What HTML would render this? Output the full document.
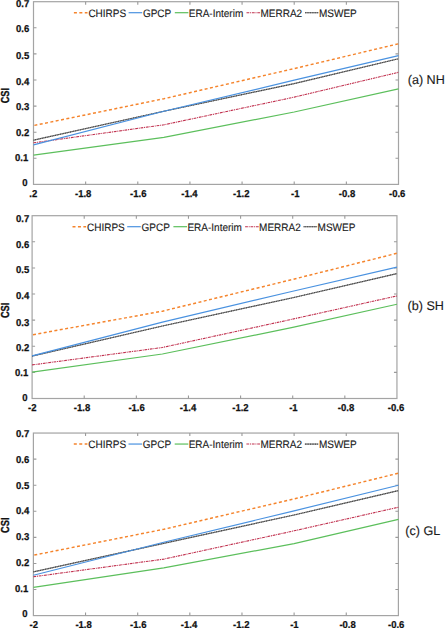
<!DOCTYPE html>
<html><head><meta charset="utf-8"><style>
html,body{margin:0;padding:0;background:#fff;}
svg{display:block;}
text{font-family:"Liberation Sans",sans-serif;text-rendering:geometricPrecision;}
.t{font-size:10.0px;font-weight:bold;fill:#111;stroke:#111;stroke-width:0.25px;}
.x{font-size:10.0px;font-weight:bold;fill:#111;stroke:#111;stroke-width:0.25px;}
.lg{font-size:10px;fill:#1a1a1a;stroke:#1a1a1a;stroke-width:0.12px;}
.pl{font-size:12.6px;fill:#1a1a1a;stroke:#1a1a1a;stroke-width:0.12px;}
.csi{font-size:11.6px;font-weight:bold;fill:#111;stroke:#111;stroke-width:0.3px;}
</style></head><body>
<svg width="445" height="628" viewBox="0 0 445 628">
<rect width="445" height="628" fill="#fff"/>
<g transform="translate(0.4,0.5)">
<rect x="33.10" y="1.20" width="365.00" height="182.70" fill="none" stroke="#a4a4a4" stroke-width="1.2"/>
<path d="M33.10 157.80h3M398.10 157.80h-3M33.10 131.70h3M398.10 131.70h-3M33.10 105.60h3M398.10 105.60h-3M33.10 79.50h3M398.10 79.50h-3M33.10 53.40h3M398.10 53.40h-3M33.10 27.30h3M398.10 27.30h-3M85.24 183.90v-3M85.24 1.20v3M137.39 183.90v-3M137.39 1.20v3M189.53 183.90v-3M189.53 1.20v3M241.67 183.90v-3M241.67 1.20v3M293.81 183.90v-3M293.81 1.20v3M345.96 183.90v-3M345.96 1.20v3" stroke="#9a9a9a" stroke-width="1.1" fill="none"/>
<polyline points="33.10,139.71 163.46,110.74 293.81,83.07 398.10,58.28" fill="none" stroke="#8f8f8f" stroke-width="1.2"/>
<polyline points="33.10,139.71 163.46,110.74 293.81,83.07 398.10,58.28" fill="none" stroke="#3a3a3a" stroke-width="1.15" stroke-dasharray="0.9 0.8"/>
<polyline points="33.10,142.32 163.46,124.31 293.81,96.64 398.10,71.85" fill="none" stroke="#c0304e" stroke-width="1.1" stroke-dasharray="2.8 0.8 1.0 0.8"/>
<polyline points="33.10,154.58 163.46,136.84 293.81,111.52 398.10,88.29" fill="none" stroke="#5cbf5c" stroke-width="1.2"/>
<polyline points="33.10,144.41 163.46,110.74 293.81,79.68 398.10,55.14" fill="none" stroke="#4a92e0" stroke-width="1.2"/>
<polyline points="33.10,125.09 163.46,98.21 293.81,68.06 398.10,43.27" fill="none" stroke="#f5842c" stroke-width="1.45" stroke-dasharray="3.0 2.44" stroke-dashoffset="4.54"/>
<path d="M73.50 12.20h13.6" fill="none" stroke="#f5842c" stroke-width="1.45" stroke-dasharray="3.0 2.44"/>
<text class="lg" transform="translate(88.00,16.00) scale(1,1.08)">CHIRPS</text>
<path d="M128.20 12.20h13.6" fill="none" stroke="#4a92e0" stroke-width="1.2"/>
<text class="lg" transform="translate(142.50,16.00) scale(1,1.08)">GPCP</text>
<path d="M174.40 12.20h13.6" fill="none" stroke="#5cbf5c" stroke-width="1.2"/>
<text class="lg" transform="translate(188.40,16.00) scale(1,1.08)">ERA-Interim</text>
<path d="M246.10 12.20h13.6" fill="none" stroke="#c0304e" stroke-width="1.1" stroke-dasharray="2.8 0.8 1.0 0.8"/>
<text class="lg" transform="translate(260.10,16.00) scale(1,1.08)">MERRA2</text>
<path d="M304.60 12.20h13.6" fill="none" stroke="#8f8f8f" stroke-width="1.2"/>
<path d="M304.60 12.20h13.6" fill="none" stroke="#3a3a3a" stroke-width="1.15" stroke-dasharray="0.9 0.8"/>
<text class="lg" transform="translate(318.60,16.00) scale(1,1.08)">MSWEP</text>
<text class="pl" x="407.30" y="83.90">(a) NH</text>
<text class="csi" transform="translate(8.20,95.10) rotate(-90) scale(0.8,1)" text-anchor="middle" x="0" y="0">CSI</text>
</g>
<text class="t" transform="translate(27.60,185.98) scale(0.95,1)" text-anchor="end">0</text>
<text class="t" transform="translate(28.30,161.18) scale(0.95,1)" text-anchor="end">0.1</text>
<text class="t" transform="translate(29.30,135.98) scale(0.95,1)" text-anchor="end">0.2</text>
<text class="t" transform="translate(29.30,109.98) scale(0.95,1)" text-anchor="end">0.3</text>
<text class="t" transform="translate(29.30,84.78) scale(0.95,1)" text-anchor="end">0.4</text>
<text class="t" transform="translate(29.30,58.58) scale(0.95,1)" text-anchor="end">0.5</text>
<text class="t" transform="translate(29.30,32.38) scale(0.95,1)" text-anchor="end">0.6</text>
<text class="t" transform="translate(29.30,7.38) scale(0.95,1)" text-anchor="end">0.7</text>
<text class="x" transform="translate(33.20,196.78) scale(0.95,1)" text-anchor="middle">.2</text>
<text class="x" transform="translate(83.20,196.78) scale(0.95,1)" text-anchor="middle">-1.8</text>
<text class="x" transform="translate(138.30,196.78) scale(0.95,1)" text-anchor="middle">-1.6</text>
<text class="x" transform="translate(189.40,196.78) scale(0.95,1)" text-anchor="middle">-1.4</text>
<text class="x" transform="translate(241.30,196.78) scale(0.95,1)" text-anchor="middle">-1.2</text>
<text class="x" transform="translate(295.20,196.78) scale(0.95,1)" text-anchor="middle">-1</text>
<text class="x" transform="translate(347.00,196.78) scale(0.95,1)" text-anchor="middle">-0.8</text>
<text class="x" transform="translate(397.20,196.78) scale(0.95,1)" text-anchor="middle">-0.6</text>
<g transform="translate(0.4,0.5)">
<rect x="31.70" y="215.20" width="364.85" height="182.80" fill="none" stroke="#a4a4a4" stroke-width="1.2"/>
<path d="M31.70 371.89h3M396.55 371.89h-3M31.70 345.77h3M396.55 345.77h-3M31.70 319.66h3M396.55 319.66h-3M31.70 293.54h3M396.55 293.54h-3M31.70 267.43h3M396.55 267.43h-3M31.70 241.31h3M396.55 241.31h-3M83.82 398.00v-3M83.82 215.20v3M135.94 398.00v-3M135.94 215.20v3M188.06 398.00v-3M188.06 215.20v3M240.19 398.00v-3M240.19 215.20v3M292.31 398.00v-3M292.31 215.20v3M344.43 398.00v-3M344.43 215.20v3" stroke="#9a9a9a" stroke-width="1.1" fill="none"/>
<polyline points="31.70,355.57 162.00,325.51 292.31,297.26 396.55,273.06" fill="none" stroke="#8f8f8f" stroke-width="1.2"/>
<polyline points="31.70,355.57 162.00,325.51 292.31,297.26 396.55,273.06" fill="none" stroke="#3a3a3a" stroke-width="1.15" stroke-dasharray="0.9 0.8"/>
<polyline points="31.70,364.42 162.00,346.98 292.31,318.61 396.55,295.44" fill="none" stroke="#c0304e" stroke-width="1.1" stroke-dasharray="2.8 0.8 1.0 0.8"/>
<polyline points="31.70,371.71 162.00,353.49 292.31,326.94 396.55,303.77" fill="none" stroke="#5cbf5c" stroke-width="1.2"/>
<polyline points="31.70,355.44 162.00,321.60 292.31,290.76 396.55,266.55" fill="none" stroke="#4a92e0" stroke-width="1.2"/>
<polyline points="31.70,334.36 162.00,310.67 292.31,278.91 396.55,252.75" fill="none" stroke="#f5842c" stroke-width="1.45" stroke-dasharray="3.0 2.44" stroke-dashoffset="4.54"/>
<path d="M72.10 226.20h13.6" fill="none" stroke="#f5842c" stroke-width="1.45" stroke-dasharray="3.0 2.44"/>
<text class="lg" transform="translate(86.60,230.00) scale(1,1.08)">CHIRPS</text>
<path d="M126.80 226.20h13.6" fill="none" stroke="#4a92e0" stroke-width="1.2"/>
<text class="lg" transform="translate(141.10,230.00) scale(1,1.08)">GPCP</text>
<path d="M173.00 226.20h13.6" fill="none" stroke="#5cbf5c" stroke-width="1.2"/>
<text class="lg" transform="translate(187.00,230.00) scale(1,1.08)">ERA-Interim</text>
<path d="M244.70 226.20h13.6" fill="none" stroke="#c0304e" stroke-width="1.1" stroke-dasharray="2.8 0.8 1.0 0.8"/>
<text class="lg" transform="translate(258.70,230.00) scale(1,1.08)">MERRA2</text>
<path d="M303.20 226.20h13.6" fill="none" stroke="#8f8f8f" stroke-width="1.2"/>
<path d="M303.20 226.20h13.6" fill="none" stroke="#3a3a3a" stroke-width="1.15" stroke-dasharray="0.9 0.8"/>
<text class="lg" transform="translate(317.20,230.00) scale(1,1.08)">MSWEP</text>
<text class="pl" x="407.10" y="309.70">(b) SH</text>
<text class="csi" transform="translate(8.60,309.90) rotate(-90) scale(0.8,1)" text-anchor="middle" x="0" y="0">CSI</text>
</g>
<text class="t" transform="translate(27.60,400.78) scale(0.95,1)" text-anchor="end">0</text>
<text class="t" transform="translate(28.30,375.98) scale(0.95,1)" text-anchor="end">0.1</text>
<text class="t" transform="translate(29.30,350.98) scale(0.95,1)" text-anchor="end">0.2</text>
<text class="t" transform="translate(29.30,325.58) scale(0.95,1)" text-anchor="end">0.3</text>
<text class="t" transform="translate(29.30,299.18) scale(0.95,1)" text-anchor="end">0.4</text>
<text class="t" transform="translate(29.30,273.18) scale(0.95,1)" text-anchor="end">0.5</text>
<text class="t" transform="translate(29.30,248.38) scale(0.95,1)" text-anchor="end">0.6</text>
<text class="t" transform="translate(29.30,221.98) scale(0.95,1)" text-anchor="end">0.7</text>
<text class="x" transform="translate(32.20,410.68) scale(0.95,1)" text-anchor="middle">-2</text>
<text class="x" transform="translate(82.00,410.68) scale(0.95,1)" text-anchor="middle">-1.8</text>
<text class="x" transform="translate(136.60,410.68) scale(0.95,1)" text-anchor="middle">-1.6</text>
<text class="x" transform="translate(188.00,410.68) scale(0.95,1)" text-anchor="middle">-1.4</text>
<text class="x" transform="translate(240.40,410.68) scale(0.95,1)" text-anchor="middle">-1.2</text>
<text class="x" transform="translate(293.40,410.68) scale(0.95,1)" text-anchor="middle">-1</text>
<text class="x" transform="translate(346.00,410.68) scale(0.95,1)" text-anchor="middle">-0.8</text>
<text class="x" transform="translate(396.00,410.68) scale(0.95,1)" text-anchor="middle">-0.6</text>
<g transform="translate(0.4,0.5)">
<rect x="33.00" y="432.55" width="365.00" height="182.55" fill="none" stroke="#a4a4a4" stroke-width="1.2"/>
<path d="M33.00 589.02h3M398.00 589.02h-3M33.00 562.94h3M398.00 562.94h-3M33.00 536.86h3M398.00 536.86h-3M33.00 510.79h3M398.00 510.79h-3M33.00 484.71h3M398.00 484.71h-3M33.00 458.63h3M398.00 458.63h-3M85.14 615.10v-3M85.14 432.55v3M137.29 615.10v-3M137.29 432.55v3M189.43 615.10v-3M189.43 432.55v3M241.57 615.10v-3M241.57 432.55v3M293.71 615.10v-3M293.71 432.55v3M345.86 615.10v-3M345.86 432.55v3" stroke="#9a9a9a" stroke-width="1.1" fill="none"/>
<polyline points="33.00,571.35 163.36,542.79 293.71,514.49 398.00,490.09" fill="none" stroke="#8f8f8f" stroke-width="1.2"/>
<polyline points="33.00,571.35 163.36,542.79 293.71,514.49 398.00,490.09" fill="none" stroke="#3a3a3a" stroke-width="1.15" stroke-dasharray="0.9 0.8"/>
<polyline points="33.00,576.28 163.36,558.63 293.71,530.33 398.00,506.71" fill="none" stroke="#c0304e" stroke-width="1.1" stroke-dasharray="2.8 0.8 1.0 0.8"/>
<polyline points="33.00,586.92 163.36,567.45 293.71,543.05 398.00,518.91" fill="none" stroke="#5cbf5c" stroke-width="1.2"/>
<polyline points="33.00,574.72 163.36,541.75 293.71,510.34 398.00,484.77" fill="none" stroke="#4a92e0" stroke-width="1.2"/>
<polyline points="33.00,554.73 163.36,528.77 293.71,498.40 398.00,472.70" fill="none" stroke="#f5842c" stroke-width="1.45" stroke-dasharray="3.0 2.44" stroke-dashoffset="4.54"/>
<path d="M73.40 443.55h13.6" fill="none" stroke="#f5842c" stroke-width="1.45" stroke-dasharray="3.0 2.44"/>
<text class="lg" transform="translate(87.90,447.35) scale(1,1.08)">CHIRPS</text>
<path d="M128.10 443.55h13.6" fill="none" stroke="#4a92e0" stroke-width="1.2"/>
<text class="lg" transform="translate(142.40,447.35) scale(1,1.08)">GPCP</text>
<path d="M174.30 443.55h13.6" fill="none" stroke="#5cbf5c" stroke-width="1.2"/>
<text class="lg" transform="translate(188.30,447.35) scale(1,1.08)">ERA-Interim</text>
<path d="M246.00 443.55h13.6" fill="none" stroke="#c0304e" stroke-width="1.1" stroke-dasharray="2.8 0.8 1.0 0.8"/>
<text class="lg" transform="translate(260.00,447.35) scale(1,1.08)">MERRA2</text>
<path d="M304.50 443.55h13.6" fill="none" stroke="#8f8f8f" stroke-width="1.2"/>
<path d="M304.50 443.55h13.6" fill="none" stroke="#3a3a3a" stroke-width="1.15" stroke-dasharray="0.9 0.8"/>
<text class="lg" transform="translate(318.50,447.35) scale(1,1.08)">MSWEP</text>
<text class="pl" x="404.80" y="534.80">(c) GL</text>
<text class="csi" transform="translate(8.60,524.70) rotate(-90) scale(0.8,1)" text-anchor="middle" x="0" y="0">CSI</text>
</g>
<text class="t" transform="translate(27.60,616.78) scale(0.95,1)" text-anchor="end">0</text>
<text class="t" transform="translate(28.30,592.38) scale(0.95,1)" text-anchor="end">0.1</text>
<text class="t" transform="translate(29.30,565.98) scale(0.95,1)" text-anchor="end">0.2</text>
<text class="t" transform="translate(29.30,539.98) scale(0.95,1)" text-anchor="end">0.3</text>
<text class="t" transform="translate(29.30,514.18) scale(0.95,1)" text-anchor="end">0.4</text>
<text class="t" transform="translate(29.30,488.78) scale(0.95,1)" text-anchor="end">0.5</text>
<text class="t" transform="translate(29.30,462.78) scale(0.95,1)" text-anchor="end">0.6</text>
<text class="t" transform="translate(29.30,437.38) scale(0.95,1)" text-anchor="end">0.7</text>
<text class="x" transform="translate(33.80,627.88) scale(0.95,1)" text-anchor="middle">-2</text>
<text class="x" transform="translate(83.60,627.88) scale(0.95,1)" text-anchor="middle">-1.8</text>
<text class="x" transform="translate(138.30,627.88) scale(0.95,1)" text-anchor="middle">-1.6</text>
<text class="x" transform="translate(189.00,627.88) scale(0.95,1)" text-anchor="middle">-1.4</text>
<text class="x" transform="translate(241.30,627.88) scale(0.95,1)" text-anchor="middle">-1.2</text>
<text class="x" transform="translate(294.40,627.88) scale(0.95,1)" text-anchor="middle">-1</text>
<text class="x" transform="translate(347.60,627.88) scale(0.95,1)" text-anchor="middle">-0.8</text>
<text class="x" transform="translate(396.20,627.88) scale(0.95,1)" text-anchor="middle">-0.6</text>
</svg></body></html>
